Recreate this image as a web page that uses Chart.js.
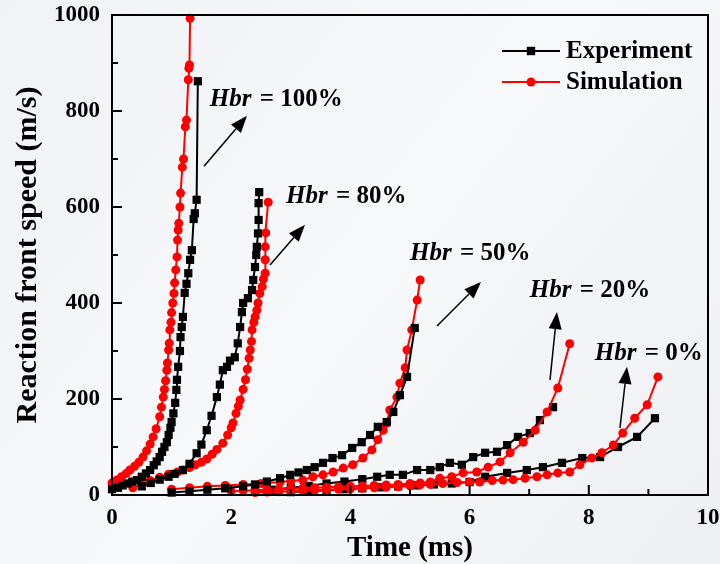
<!DOCTYPE html>
<html><head><meta charset="utf-8">
<script src="https://cdn.jsdelivr.net/npm/chart.js@4"></script>
<style>html,body{margin:0;padding:0;background:#f4f5f7;}#wrap{width:720px;height:564px;}</style>
</head><body><div id="wrap"><canvas id="c" width="720" height="564"></canvas></div>
<script>
// ---- data: [time (ms), reaction front speed (m/s)] ----
const exp100 = [[0,12],[0.1,15],[0.18,20],[0.26,24],[0.34,28],[0.42,31],[0.5,38],[0.57,45],[0.64,52],[0.7,62],[0.75,70],[0.8,79],[0.84,90],[0.88,100],[0.92,110],[0.95,125],[0.98,140],[1.0,152],[1.03,170],[1.06,192],[1.08,219],[1.09,240],[1.11,267],[1.14,300],[1.15,329],[1.17,350],[1.19,371],[1.22,421],[1.25,440],[1.28,462],[1.31,490],[1.34,510],[1.37,575],[1.39,587],[1.42,615],[1.44,862]];
const sim100 = [[0,25],[0.08,31],[0.16,38],[0.24,45],[0.3,52],[0.38,60],[0.45,68],[0.52,79],[0.58,92],[0.64,106],[0.69,121],[0.74,138],[0.8,163],[0.83,183],[0.86,204],[0.88,220],[0.9,238],[0.92,260],[0.93,275],[0.95,302],[0.96,316],[0.97,344],[0.99,360],[1.0,380],[1.02,400],[1.04,420],[1.05,442],[1.07,469],[1.09,496],[1.1,531],[1.11,552],[1.12,566],[1.14,600],[1.15,629],[1.18,683],[1.2,700],[1.23,767],[1.25,781],[1.28,865],[1.29,889],[1.3,896],[1.31,993]];
const exp80 = [[0.5,18],[0.65,25],[0.8,32],[0.95,38],[1.05,44],[1.19,52],[1.3,65],[1.42,87],[1.5,105],[1.59,135],[1.67,165],[1.76,204],[1.81,230],[1.86,260],[1.93,267],[1.98,280],[2.06,287],[2.11,316],[2.15,350],[2.18,381],[2.2,400],[2.28,410],[2.35,427],[2.37,448],[2.4,475],[2.42,500],[2.43,517],[2.45,545],[2.46,573],[2.46,608],[2.47,631]];
const sim80 = [[0.35,15],[0.5,22],[0.64,30],[0.8,37],[0.95,43],[1.1,48],[1.19,52],[1.3,57],[1.4,63],[1.5,68],[1.59,75],[1.68,85],[1.76,95],[1.86,108],[1.94,125],[2.0,140],[2.03,150],[2.08,170],[2.12,185],[2.15,198],[2.2,220],[2.24,240],[2.27,262],[2.3,285],[2.32,302],[2.34,320],[2.35,344],[2.38,360],[2.4,371],[2.43,385],[2.45,400],[2.48,420],[2.52,434],[2.54,450],[2.57,462],[2.57,490],[2.57,517],[2.58,546],[2.62,610]];
const exp50 = [[1.0,5],[1.3,8],[1.6,11],[1.9,14],[2.2,18],[2.4,22],[2.6,28],[2.82,35],[2.99,42],[3.13,47],[3.27,52],[3.4,58],[3.54,67],[3.7,77],[3.86,83],[4.03,98],[4.19,110],[4.33,125],[4.46,142],[4.61,152],[4.72,173],[4.83,208],[4.95,246],[5.08,348]];
const sim50 = [[1.0,12],[1.3,15],[1.6,18],[1.9,20],[2.2,22],[2.5,24],[2.82,27],[3.0,29],[3.2,31],[3.37,38],[3.54,42],[3.71,48],[3.88,56],[4.04,63],[4.21,77],[4.36,94],[4.46,115],[4.55,135],[4.61,150],[4.66,177],[4.78,204],[4.83,233],[4.92,265],[4.95,302],[5.03,344],[5.12,406],[5.17,448]];
const exp20 = [[2.4,8],[2.7,11],[3.0,15],[3.3,19],[3.6,24],[3.9,28],[4.2,33],[4.45,38],[4.66,42],[4.88,42],[5.12,52],[5.34,52],[5.5,58],[5.67,67],[5.87,63],[6.06,79],[6.26,88],[6.46,90],[6.63,104],[6.81,121],[7.01,129],[7.18,156],[7.4,183]];
const sim20 = [[2.0,8],[2.2,9],[2.4,10],[2.6,11],[2.8,12],[3.0,13],[3.2,14],[3.4,15],[3.6,16],[3.8,17],[4.0,18],[4.2,19],[4.4,20],[4.6,21],[4.8,22],[5.0,24],[5.17,25],[5.34,27],[5.5,35],[5.7,38],[5.89,46],[6.12,48],[6.31,58],[6.51,69],[6.68,88],[6.9,110],[7.1,135],[7.3,173],[7.48,223],[7.68,315]];
const exp0 = [[3.0,6],[3.3,8],[3.6,10],[3.9,12],[4.2,14],[4.5,16],[4.8,18],[5.1,20],[5.4,22],[5.7,24],[6.0,27],[6.26,38],[6.63,46],[6.96,52],[7.23,58],[7.55,67],[7.89,77],[8.19,79],[8.49,100],[8.81,121],[9.11,160]];
const sim0 = [[2.4,5],[2.6,6],[2.8,7],[3.0,8],[3.2,9],[3.4,10],[3.6,11],[3.8,12],[4.0,13],[4.2,14],[4.4,15],[4.6,16],[4.8,17],[5.0,19],[5.17,21],[5.34,22],[5.55,24],[5.79,26],[6.0,27],[6.17,27],[6.38,30],[6.56,31],[6.73,32],[6.93,35],[7.13,38],[7.3,42],[7.48,46],[7.68,48],[7.85,63],[8.05,77],[8.22,88],[8.41,104],[8.57,129],[8.77,160],[8.98,188],[9.16,246]];

const xTicks = [0,2,4,6,8,10];
const yTicks = [0,200,400,600,800,1000];
const xMinor = [1,3,5,7,9];
const yMinor = [100,300,500,700,900];
const seriesNames = ['Experiment','Simulation'];
const hbrLabels = ['100%','80%','50%','20%','0%'];

// ---- styling / placement (not data) ----
const FONT = "'Liberation Serif','Times New Roman',serif";
const BLACK = '#000000', RED = '#ff0000';
// annotation anchors in axis units: text [t, v], arrow start -> tip
const notes = [
  {text:[1.64,823], from:[1.544,685], to:[2.265,790]},
  {text:[2.92,621], from:[2.651,479], to:[3.238,563]},
  {text:[5.0,504],  from:[5.453,352], to:[6.191,444]},
  {text:[7.01,425], from:[7.349,240], to:[7.466,381]},
  {text:[8.10,294], from:[8.523,140], to:[8.641,267]}
];

function pts(a){ return a.map(p => ({x:p[0], y:p[1]})); }
function expSet(name, a, order){ return {label:name, data:pts(a), showLine:true, borderColor:BLACK, backgroundColor:BLACK, borderWidth:2, pointStyle:'rect', pointRadius:5.8, pointHoverRadius:5.8, pointBackgroundColor:BLACK, pointBorderColor:BLACK, pointBorderWidth:0, tension:0, clip:false, order}; }
function simSet(name, a, order){ return {label:name, data:pts(a), showLine:true, borderColor:RED, backgroundColor:RED, borderWidth:2, pointStyle:'circle', pointRadius:4.5, pointHoverRadius:4.5, pointBackgroundColor:RED, pointBorderColor:RED, pointBorderWidth:0, tension:0, clip:false, order}; }

const datasets = [
  expSet(seriesNames[0]+' '+hbrLabels[0], exp100, 1), simSet(seriesNames[1]+' '+hbrLabels[0], sim100, 2),
  expSet(seriesNames[0]+' '+hbrLabels[1], exp80, 1),  simSet(seriesNames[1]+' '+hbrLabels[1], sim80, 2),
  expSet(seriesNames[0]+' '+hbrLabels[2], exp50, 1),  simSet(seriesNames[1]+' '+hbrLabels[2], sim50, 2),
  expSet(seriesNames[0]+' '+hbrLabels[3], exp20, 2),  simSet(seriesNames[1]+' '+hbrLabels[3], sim20, 1),
  expSet(seriesNames[0]+' '+hbrLabels[4], exp0, 2),   simSet(seriesNames[1]+' '+hbrLabels[4], sim0, 1)
];

const bgPlugin = {
  id:'bg',
  beforeDraw(chart){
    const ctx = chart.ctx;
    ctx.save();
    const g = ctx.createLinearGradient(0,0,720,564);
    g.addColorStop(0,'#f1f2f5'); g.addColorStop(0.5,'#f7f8fa'); g.addColorStop(1,'#eeeff2');
    ctx.fillStyle = g; ctx.fillRect(0,0,chart.width,chart.height);
    ctx.restore();
  }
};

const framePlugin = {
  id:'frame',
  afterDraw(chart){
    const {ctx, chartArea:a, scales:{x, y}} = chart;
    ctx.save();
    ctx.strokeStyle = BLACK; ctx.lineWidth = 2;
    ctx.strokeRect(a.left, a.top, a.right - a.left, a.bottom - a.top);
    ctx.beginPath();
    xTicks.forEach(v => { const p = x.getPixelForValue(v); ctx.moveTo(p, a.bottom); ctx.lineTo(p, a.bottom - 10); });
    xMinor.forEach(v => { const p = x.getPixelForValue(v); ctx.moveTo(p, a.bottom); ctx.lineTo(p, a.bottom - 6); });
    yTicks.forEach(v => { const p = y.getPixelForValue(v); ctx.moveTo(a.left, p); ctx.lineTo(a.left + 10, p); });
    yMinor.forEach(v => { const p = y.getPixelForValue(v); ctx.moveTo(a.left, p); ctx.lineTo(a.left + 6, p); });
    ctx.stroke();

    // legend
    const rows = [{name:seriesNames[0], c:BLACK, sq:true, y:51}, {name:seriesNames[1], c:RED, sq:false, y:82}];
    rows.forEach(r => {
      ctx.strokeStyle = r.c; ctx.fillStyle = r.c; ctx.lineWidth = 2;
      ctx.beginPath(); ctx.moveTo(502, r.y); ctx.lineTo(560, r.y); ctx.stroke();
      ctx.beginPath();
      if (r.sq) ctx.rect(531-4.2, r.y-4.2, 8.4, 8.4); else ctx.arc(531, r.y, 4.5, 0, Math.PI*2);
      ctx.fill();
      ctx.fillStyle = BLACK; ctx.font = 'bold 25px ' + FONT; ctx.textBaseline = 'middle'; ctx.textAlign = 'left';
      ctx.fillText(r.name, 566, r.y + 1);
    });

    // annotations
    notes.forEach((n, i) => {
      const tx = x.getPixelForValue(n.text[0]), ty = y.getPixelForValue(n.text[1]);
      ctx.fillStyle = BLACK; ctx.textBaseline = 'middle'; ctx.textAlign = 'left';
      ctx.font = 'italic bold 25px ' + FONT;
      ctx.fillText('Hbr', tx, ty);
      const w = ctx.measureText('Hbr').width;
      ctx.font = 'bold 25px ' + FONT;
      ctx.fillText(' = ' + hbrLabels[i], tx + w + 2, ty);
      const x0 = x.getPixelForValue(n.from[0]), y0 = y.getPixelForValue(n.from[1]);
      const x1 = x.getPixelForValue(n.to[0]), y1 = y.getPixelForValue(n.to[1]);
      const ang = Math.atan2(y1 - y0, x1 - x0), L = 17, H = 6.5;
      const bx = x1 - L*Math.cos(ang), by = y1 - L*Math.sin(ang);
      ctx.strokeStyle = BLACK; ctx.lineWidth = 1.5;
      ctx.beginPath(); ctx.moveTo(x0, y0); ctx.lineTo(bx, by); ctx.stroke();
      ctx.beginPath();
      ctx.moveTo(x1, y1);
      ctx.lineTo(bx + H*Math.sin(ang), by - H*Math.cos(ang));
      ctx.lineTo(bx - H*Math.sin(ang), by + H*Math.cos(ang));
      ctx.closePath(); ctx.fill();
    });
    ctx.restore();
  }
};

new Chart(document.getElementById('c'), {
  type:'scatter',
  data:{datasets},
  options:{
    responsive:false, animation:false, devicePixelRatio:1,
    layout:{padding:{left:0, right:12, top:15, bottom:0}},
    plugins:{legend:{display:false}, tooltip:{enabled:false}},
    scales:{
      x:{type:'linear', min:0, max:10,
        afterBuildTicks(s){ s.ticks = xTicks.map(v => ({value:v})); },
        afterFit(s){ s.height = 69; s.paddingLeft = 0; s.paddingRight = 0; },
        grid:{display:false, drawTicks:false}, border:{display:false},
        ticks:{color:BLACK, padding:9, maxRotation:0, callback:v => String(v), font:{family:FONT, size:23, weight:'bold'}},
        title:{display:true, text:'Time (ms)', color:BLACK, padding:{top:0,bottom:0}, font:{family:FONT, size:29, weight:'bold', lineHeight:1.1}}
      },
      y:{type:'linear', min:0, max:1000,
        afterBuildTicks(s){ s.ticks = yTicks.map(v => ({value:v})); },
        afterFit(s){ s.width = 112; s.paddingTop = 0; s.paddingBottom = 0; },
        grid:{display:false, drawTicks:false}, border:{display:false},
        ticks:{color:BLACK, padding:12, callback:v => String(v), font:{family:FONT, size:23, weight:'bold'}},
        title:{display:true, text:'Reaction front speed (m/s)', color:BLACK, padding:{top:10,bottom:0}, font:{family:FONT, size:30, weight:'bold', lineHeight:1.2}}
      }
    }
  },
  plugins:[bgPlugin, framePlugin]
});
</script></body></html>
